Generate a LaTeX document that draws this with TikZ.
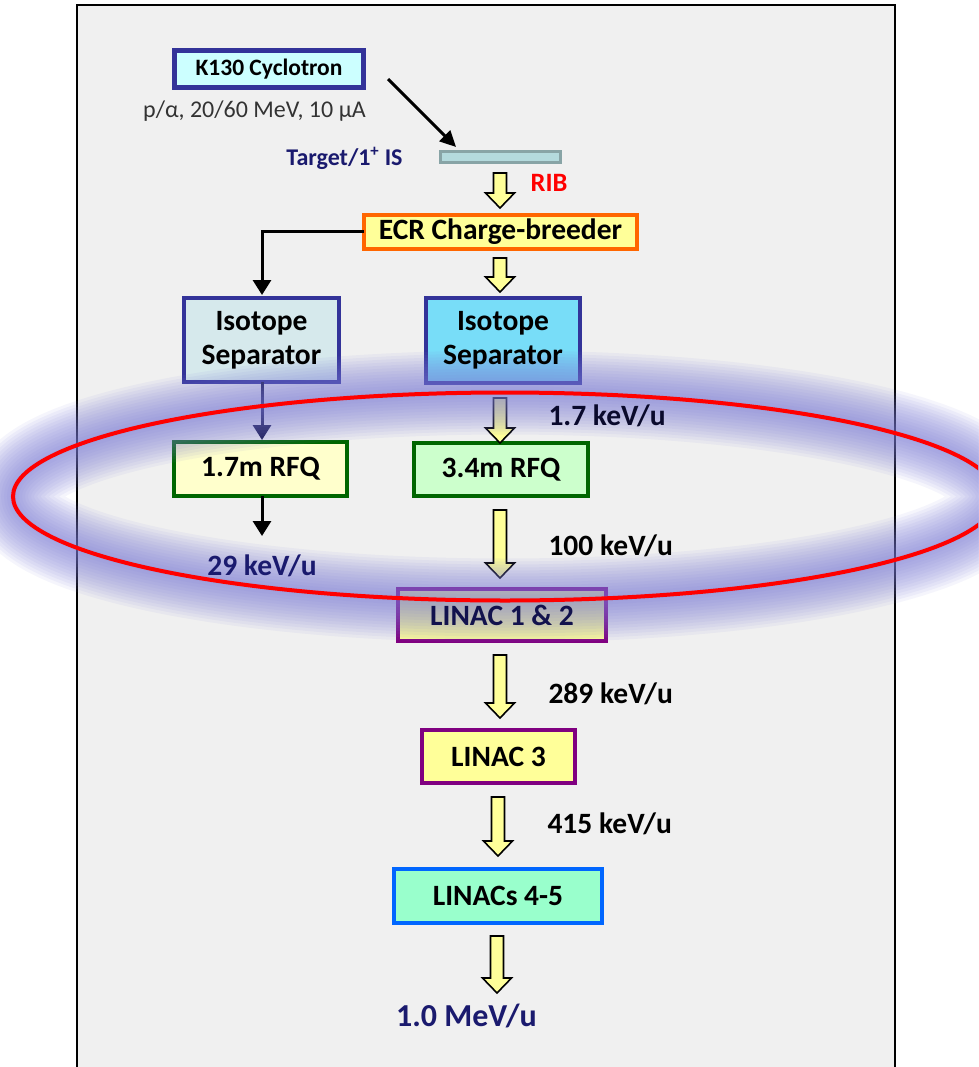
\documentclass[tikz,border=0pt]{standalone}
\usepackage{fontspec}
\setmainfont{Carlito}
\usetikzlibrary{calc,arrows.meta}
\pgfdeclarelayer{back}
\pgfdeclarelayer{mid}
\pgfsetlayers{back,mid,main}
\definecolor{panel}{HTML}{F0F0F0}
\definecolor{navy}{HTML}{1A1A6E}
\definecolor{boxblue}{HTML}{333399}
\definecolor{cyanlt}{HTML}{CCFFFF}
\definecolor{yel}{HTML}{FFFF99}
\definecolor{yellt}{HTML}{FFFFCC}
\definecolor{orng}{HTML}{FF6600}
\definecolor{isol}{HTML}{D6E9EC}
\definecolor{isor}{HTML}{78DDF8}
\definecolor{dgreen}{HTML}{006600}
\definecolor{greenlt}{HTML}{CCFFCC}
\definecolor{purp}{HTML}{800080}
\definecolor{mint}{HTML}{99FFCC}
\definecolor{brblue}{HTML}{0066FF}
\definecolor{tgtfill}{HTML}{B4DADD}
\definecolor{tgtline}{HTML}{88A4A6}
\definecolor{glow}{HTML}{7C7CD8}
\newcommand\yarr[2]{\draw[yarrow] let \p1=(#1), \p2=(#2) in
  (\x1-6.5pt,\y1) -- (\x1+6.5pt,\y1) -- (\x1+6.5pt,\y2+15pt) -- (\x1+14.5pt,\y2+15pt)
  -- (\x1,\y2) -- (\x1-14.5pt,\y2+15pt) -- (\x1-6.5pt,\y2+15pt) -- cycle;}
% frame of a box node, drawn on the back layer
\newcommand\frameof[4][4pt]{\draw[draw=#3, fill=#4, line width=#1] (#2.north west) rectangle (#2.south east);}
\begin{document}
\begin{tikzpicture}[x=1pt,y=-1pt,
  box/.style={inner sep=0pt, outer sep=0pt, align=center,
    font=\bfseries\fontsize{29.5}{34}\selectfont},
  yarrow/.style={draw=black, line width=1.6pt, fill=yel, line join=miter},
  blk/.style={draw=black, line width=3pt, -{Triangle[length=15pt,width=18pt]}},
  lab/.style={font=\bfseries\fontsize{29.5}{34}\selectfont, anchor=west}]
\clip (0,0) rectangle (978,1067);
\useasboundingbox (0,0) rectangle (978,1067);

% box nodes (text); frames are drawn on the back layer
\node[box, minimum width=189pt, minimum height=37pt,
  font=\bfseries\fontsize{23.5}{27}\selectfont] (cyc) at (269,69) {K130 Cyclotron};
\node[font=\fontsize{24}{28}\selectfont, text=black!80] (beam) at (254.5,111) {p/α, 20/60 MeV, 10 μA};
\node[draw=tgtline, fill=tgtfill, line width=2.5pt, minimum width=120pt, minimum height=11pt, inner sep=0pt] (tgt) at (500.5,157) {};
\node[font=\bfseries\fontsize{24}{28}\selectfont, text=navy] (tgtlab) at (344.5,158) {Target/1\textsuperscript{+} IS};
\node[font=\bfseries\fontsize{26.5}{30}\selectfont, text=red] (rib) at (549,183) {RIB};
\node[box, minimum width=273pt, minimum height=34pt] (ecr) at (500.5,232) {ECR Charge-breeder};
\node[box, minimum width=155pt, minimum height=84pt] (isoL) at (261.5,340) {Isotope\\Separator};
\node[box, minimum width=154pt, minimum height=85pt] (isoR) at (503,340.5) {Isotope\\Separator};
\node[box, minimum width=173pt, minimum height=54pt] (rfq1) at (260.5,469) {1.7m RFQ};
\node[box, minimum width=174pt, minimum height=53pt] (rfq2) at (501,469.5) {3.4m RFQ};
\node[box, text=navy!70!black, minimum width=208pt, minimum height=52pt] (lin12) at (502,615) {LINAC 1 \& 2};
\node[box, minimum width=153pt, minimum height=53pt] (lin3) at (498.5,756.5) {LINAC 3};
\node[box, minimum width=208pt, minimum height=54pt] (lin45) at (498,896) {LINACs 4-5};

% labels
\node[lab, text=navy!40!black] (e17) at (545,416) {1.7 keV/u};
\node[lab] (e100) at (545,546) {100 keV/u};
\node[lab] (e289) at (545,694) {289 keV/u};
\node[lab] (e415) at (544,824) {415 keV/u};
\node[lab, anchor=center, text=navy] (e29) at (262,566) {29 keV/u};
\node[font=\bfseries\fontsize{32}{36}\selectfont, text=navy] (e10) at (466.5,1016) {1.0 MeV/u};

\begin{pgfonlayer}{back}
\fill[white] (0,0) rectangle (978,1067);
\draw[fill=panel, line width=1.5pt] (77,5) rectangle (895,1080);
\frameof[4.5pt]{cyc}{boxblue}{cyanlt}
\frameof{ecr}{orng}{yel}
\frameof{isoL}{boxblue}{isol}
\frameof{isoR}{boxblue}{isor}
\frameof{rfq1}{dgreen}{yellt}
\frameof{rfq2}{dgreen}{greenlt}
\frameof{lin12}{purp}{yel}
\frameof{lin3}{purp}{yel}
\frameof{lin45}{brblue}{mint}

% black connectors
\coordinate (c1) at (388,79);
\coordinate (c2) at (456,147);
\draw[blk, -{Triangle[length=16pt,width=15pt]}] (c1) -- (c2);
\draw[blk] (ecr.west) -- (262,232) -- (262,295);
\draw[blk, draw=navy!60!black, fill=navy!60!black] (isoL.south -| 262,0) -- (262,440);
\coordinate (r1e) at (262,536);
\draw[blk] (rfq1.south -| 262,0) -- (r1e);

% yellow block arrows
\coordinate (a1s) at (500,173); \coordinate (a1e) at (500,208);
\yarr{a1s}{a1e}
\coordinate (a2s) at (500,258); \coordinate (a2e) at (500,292);
\yarr{a2s}{a2e}
\coordinate (a3s) at (500,398); \coordinate (a3e) at (500,443);
\yarr{a3s}{a3e}
\coordinate (a4s) at (500,510); \coordinate (a4e) at (500,578);
\yarr{a4s}{a4e}
\coordinate (a5s) at (500,655); \coordinate (a5e) at (500,718);
\yarr{a5s}{a5e}
\coordinate (a6s) at (498,797); \coordinate (a6e) at (498,856);
\yarr{a6s}{a6e}
\coordinate (a7s) at (497,936); \coordinate (a7e) at (497,993);
\yarr{a7s}{a7e}
\end{pgfonlayer}

% glow ellipse
\begin{pgfonlayer}{mid}
\foreach \w in {84,78,...,6}
  \draw[glow, line width=\w pt, opacity=0.075] (505,496.5) ellipse [x radius=492, y radius=104];
\end{pgfonlayer}
\draw[red, line width=4pt] (505,496.5) ellipse [x radius=492, y radius=104];
\end{tikzpicture}
\end{document}
